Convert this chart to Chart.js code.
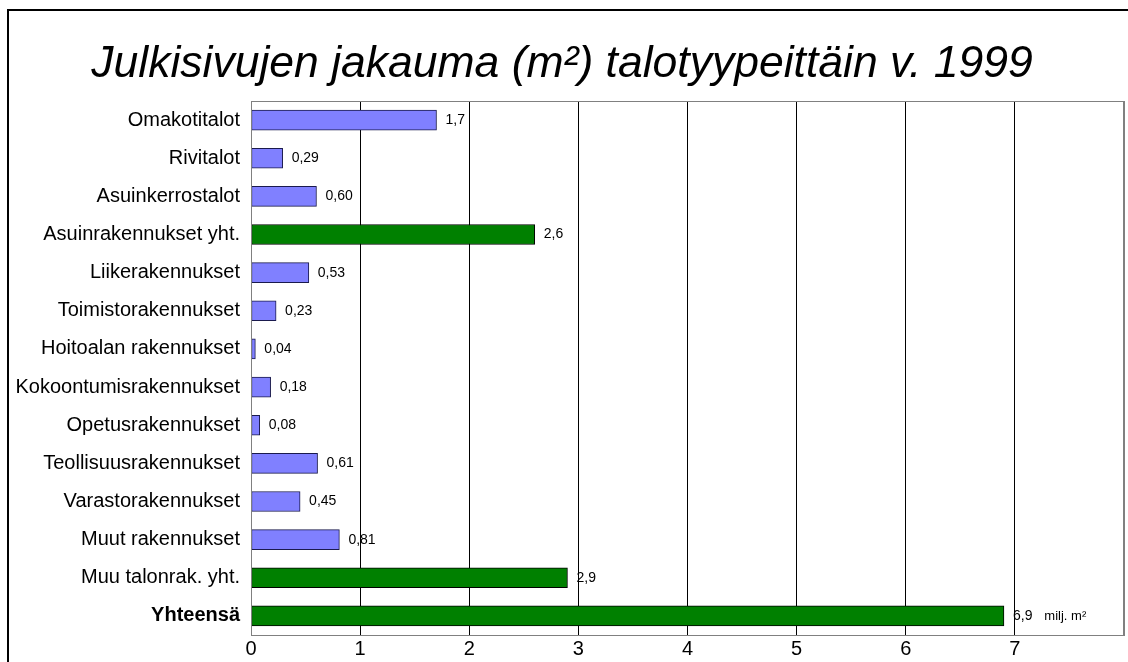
<!DOCTYPE html>
<html lang="fi">
<head>
<meta charset="UTF-8">
<title>Julkisivujen jakauma</title>
<script src="https://cdn.jsdelivr.net/npm/chart.js@4"></script>
<style>
html, body { margin: 0; padding: 0; background: #fff; overflow: hidden; }
.frame { position: absolute; left: 7px; top: 9px; width: 1200px; height: 700px; border: 2px solid #000; box-sizing: border-box; }
.wrap { position: absolute; left: 0; top: 0; width: 1128px; height: 662px; }
</style>
</head>
<body>
<div class="frame"></div>
<div class="wrap"><canvas id="chart" width="1128" height="662"></canvas></div>
<script>
// talotyypit ylhäältä alas
const categories = [
  "Omakotitalot", "Rivitalot", "Asuinkerrostalot", "Asuinrakennukset yht.",
  "Liikerakennukset", "Toimistorakennukset", "Hoitoalan rakennukset",
  "Kokoontumisrakennukset", "Opetusrakennukset", "Teollisuusrakennukset",
  "Varastorakennukset", "Muut rakennukset", "Muu talonrak. yht.", "Yhteensä"
];
// milj. m²
const values = [1.7, 0.29, 0.60, 2.6, 0.53, 0.23, 0.04, 0.18, 0.08, 0.61, 0.45, 0.81, 2.9, 6.9];
// summarivit vihreällä
const isTotal = [false, false, false, true, false, false, false, false, false, false, false, false, true, true];
const xTicks = [0, 1, 2, 3, 4, 5, 6, 7];

const FONT = "Arial, 'Liberation Sans', Helvetica, sans-serif";

function fmt(v) {
  return (v >= 1 ? v.toFixed(1) : v.toFixed(2)).replace(".", ",");
}

const valueLabels = {
  id: "valueLabels",
  afterDatasetsDraw(chart) {
    const ctx = chart.ctx;
    const meta = chart.getDatasetMeta(0);
    ctx.save();
    ctx.font = "14px " + FONT;
    ctx.fillStyle = "#000";
    ctx.textBaseline = "middle";
    ctx.textAlign = "left";
    meta.data.forEach((bar, i) => {
      ctx.fillText(fmt(values[i]), bar.x + 9, bar.y);
    });
    const last = meta.data[meta.data.length - 1];
    ctx.font = "13px " + FONT;
    ctx.fillText("milj. m²", chart.scales.x.getPixelForValue(7.27), last.y);
    ctx.restore();
  }
};

const plotBorder = {
  id: "plotBorder",
  afterDraw(chart) {
    const a = chart.chartArea;
    const ctx = chart.ctx;
    ctx.save();
    ctx.strokeStyle = "#808080";
    ctx.lineWidth = 1;
    ctx.strokeRect(a.left + 0.5, a.top + 0.5, a.right - a.left - 1, a.bottom - a.top);
    ctx.restore();
  }
};

new Chart(document.getElementById("chart"), {
  type: "bar",
  data: {
    labels: categories,
    datasets: [{
      data: values,
      backgroundColor: isTotal.map(t => t ? "#008000" : "#8080ff"),
      borderColor: isTotal.map(t => t ? "#000000" : "#1a1a4d"),
      borderWidth: 1,
      borderSkipped: false,
      barThickness: 20
    }]
  },
  options: {
    indexAxis: "y",
    responsive: false,
    animation: false,
    layout: { padding: { left: 0, right: 4, top: 0, bottom: 0 } },
    plugins: {
      legend: { display: false },
      tooltip: { enabled: false },
      title: {
        display: true,
        text: "Julkisivujen jakauma (m²) talotyypeittäin v. 1999",
        color: "#000",
        font: { family: FONT, size: 44.5, style: "italic", weight: "normal", lineHeight: 1.2 },
        padding: { top: 38, bottom: 9.6 }
      }
    },
    scales: {
      x: {
        min: 0,
        max: 8,
        afterBuildTicks: s => { s.ticks = xTicks.concat([8]).map(v => ({ value: v })); },
        ticks: {
          color: "#000",
          padding: 4,
          font: { family: FONT, size: 20, lineHeight: 1 },
          callback: v => (v === 8 ? "" : v)
        },
        grid: {
          color: c => (c.tick && (c.tick.value === 0 || c.tick.value === 8) ? "#808080" : "#000"),
          lineWidth: 1,
          tickLength: 0
        },
        border: { color: "#808080" },
        afterFit: s => { s.height = 27; }
      },
      y: {
        ticks: {
          color: "#000",
          padding: 11,
          font: c => ({ family: FONT, size: 20, weight: c.index === categories.length - 1 ? "bold" : "normal" })
        },
        grid: { display: false, tickLength: 0 },
        border: { color: "#808080" },
        afterFit: s => { s.width = 251; }
      }
    }
  },
  plugins: [valueLabels, plotBorder]
});
</script>
</body>
</html>
